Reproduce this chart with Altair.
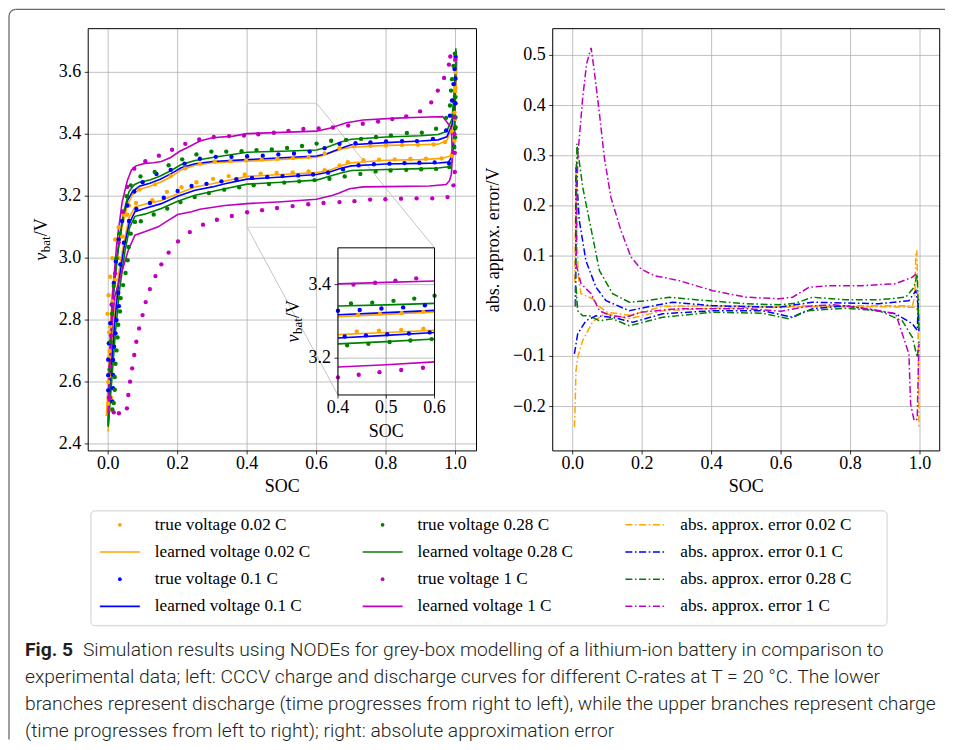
import math
import altair as alt
import pandas as pd

alt.data_transformers.disable_max_rows()

RATES = ["0.02 C", "0.1 C", "0.28 C", "1 C"]
COLORS = ["#ffa500", "#0000ff", "#008000", "#bf00bf"]

# ---------------- learned voltage (charge branch, then discharge branch) ----------------
O_LC_S = [-0.005, 0.0, 0.005, 0.012, 0.025, 0.04, 0.055, 0.07, 0.09, 0.12, 0.15, 0.18, 0.21, 0.25, 0.3, 0.4, 0.5, 0.6, 0.63, 0.67, 0.7, 0.8, 0.9, 0.95, 0.975, 0.99, 0.997, 1.0, 1.005]
O_LC_V = [2.49, 2.6, 2.75, 2.88, 3.0, 3.1, 3.17, 3.205, 3.222, 3.232, 3.245, 3.262, 3.285, 3.3, 3.308, 3.313, 3.319, 3.326, 3.336, 3.352, 3.358, 3.364, 3.366, 3.368, 3.38, 3.42, 3.5, 3.6, 3.655]
O_LD_S = [1.003, 0.998, 0.993, 0.985, 0.96, 0.9, 0.8, 0.7, 0.67, 0.64, 0.6, 0.5, 0.4, 0.336, 0.3, 0.25, 0.2, 0.153, 0.105, 0.077, 0.06, 0.045, 0.03, 0.018, 0.008, 0.0]
O_LD_V = [3.6, 3.45, 3.36, 3.33, 3.322, 3.318, 3.316, 3.308, 3.298, 3.285, 3.276, 3.27, 3.264, 3.249, 3.24, 3.23, 3.208, 3.186, 3.174, 3.165, 3.13, 3.05, 2.95, 2.82, 2.65, 2.44]

B_LC_S = [0.0, 0.005, 0.012, 0.025, 0.04, 0.055, 0.07, 0.09, 0.12, 0.15, 0.18, 0.21, 0.25, 0.3, 0.4, 0.5, 0.6, 0.63, 0.67, 0.7, 0.8, 0.9, 0.95, 0.975, 0.99, 0.997, 1.0, 1.002]
B_LC_V = [2.47, 2.65, 2.85, 3.0, 3.12, 3.185, 3.215, 3.232, 3.242, 3.255, 3.272, 3.292, 3.305, 3.312, 3.318, 3.324, 3.33, 3.337, 3.355, 3.366, 3.373, 3.378, 3.382, 3.392, 3.43, 3.52, 3.6, 3.668]
B_LD_S = [1.0, 0.997, 0.99, 0.98, 0.95, 0.9, 0.8, 0.7, 0.67, 0.64, 0.6, 0.5, 0.4, 0.336, 0.3, 0.25, 0.2, 0.153, 0.105, 0.077, 0.06, 0.045, 0.03, 0.018, 0.008, 0.0]
B_LD_V = [3.6, 3.42, 3.33, 3.31, 3.307, 3.306, 3.304, 3.298, 3.29, 3.279, 3.27, 3.262, 3.255, 3.24, 3.23, 3.219, 3.2, 3.176, 3.16, 3.15, 3.11, 3.03, 2.92, 2.78, 2.62, 2.46]

G_LC_S = [0.0, 0.006, 0.015, 0.03, 0.045, 0.06, 0.075, 0.09, 0.12, 0.15, 0.18, 0.21, 0.25, 0.3, 0.4, 0.5, 0.6, 0.63, 0.67, 0.7, 0.8, 0.9, 0.95, 0.975, 0.99, 0.997, 1.0, 1.001]
G_LC_V = [2.46, 2.68, 2.88, 3.04, 3.15, 3.215, 3.237, 3.245, 3.252, 3.265, 3.282, 3.302, 3.315, 3.325, 3.342, 3.345, 3.349, 3.358, 3.375, 3.384, 3.391, 3.395, 3.399, 3.41, 3.45, 3.55, 3.62, 3.678]
G_LD_S = [1.0, 0.997, 0.99, 0.98, 0.95, 0.9, 0.8, 0.7, 0.67, 0.64, 0.6, 0.5, 0.4, 0.336, 0.3, 0.25, 0.2, 0.153, 0.105, 0.077, 0.062, 0.048, 0.033, 0.02, 0.01, 0.0]
G_LD_V = [3.6, 3.4, 3.31, 3.295, 3.291, 3.289, 3.286, 3.283, 3.275, 3.265, 3.252, 3.245, 3.239, 3.224, 3.215, 3.203, 3.184, 3.16, 3.142, 3.135, 3.1, 3.02, 2.9, 2.75, 2.6, 2.455]

M_LC_S = [0.0, 0.005, 0.012, 0.025, 0.04, 0.055, 0.067, 0.08, 0.105, 0.13, 0.153, 0.18, 0.206, 0.23, 0.264, 0.3, 0.36, 0.4, 0.5, 0.6, 0.64, 0.686, 0.734, 0.83, 0.9, 0.963, 0.988, 0.991]
M_LC_V = [2.5, 2.7, 2.88, 3.05, 3.18, 3.25, 3.285, 3.298, 3.306, 3.308, 3.312, 3.325, 3.345, 3.358, 3.378, 3.389, 3.394, 3.402, 3.406, 3.41, 3.42, 3.437, 3.446, 3.452, 3.455, 3.457, 3.42, 3.33]
M_LD_S = [0.988, 0.983, 0.973, 0.925, 0.8, 0.734, 0.695, 0.665, 0.647, 0.6, 0.5, 0.4, 0.336, 0.264, 0.24, 0.2, 0.173, 0.144, 0.105, 0.077, 0.058, 0.038, 0.019, 0.008, 0.0]
M_LD_V = [3.27, 3.251, 3.238, 3.233, 3.231, 3.23, 3.224, 3.21, 3.203, 3.19, 3.182, 3.176, 3.17, 3.158, 3.15, 3.141, 3.122, 3.101, 3.085, 3.074, 3.026, 2.951, 2.876, 2.75, 2.52]

# ---------------- true voltage (measured points) ----------------
O_TC_S = [0.0, 0.0, 0.002, 0.003, -0.002, 0.001, 0.006, 0.012, 0.02, 0.03, 0.045, 0.06, 0.09, 0.135, 0.18, 0.222, 0.264, 0.307, 0.352, 0.397, 0.442, 0.487, 0.532, 0.577, 0.623, 0.666, 0.709, 0.755, 0.8, 0.846, 0.892, 0.937, 0.97, 0.99, 0.997, 0.999, 1.0, 1.0]
O_TC_V = [2.53, 2.6, 2.68, 2.76, 2.82, 2.88, 2.94, 3.0, 3.06, 3.1, 3.14, 3.17, 3.222, 3.238, 3.265, 3.29, 3.305, 3.312, 3.314, 3.316, 3.318, 3.321, 3.323, 3.326, 3.338, 3.355, 3.362, 3.363, 3.364, 3.365, 3.366, 3.367, 3.375, 3.41, 3.47, 3.54, 3.6, 3.64]
O_TD_S = [1.0, 0.999, 0.997, 0.99, 0.96, 0.915, 0.87, 0.825, 0.78, 0.735, 0.69, 0.666, 0.623, 0.577, 0.531, 0.485, 0.439, 0.393, 0.347, 0.302, 0.254, 0.211, 0.169, 0.127, 0.08, 0.055, 0.04, 0.03, 0.02, 0.012, 0.006, 0.004, 0.004, 0.008, 0.01]
O_TD_V = [3.55, 3.45, 3.38, 3.33, 3.322, 3.321, 3.32, 3.319, 3.318, 3.316, 3.31, 3.299, 3.284, 3.28, 3.277, 3.275, 3.273, 3.27, 3.265, 3.256, 3.245, 3.229, 3.214, 3.187, 3.178, 3.14, 3.07, 3.0, 2.93, 2.86, 2.78, 2.7, 2.62, 2.55, 2.51]

B_TC_S = [0.0, 0.0, 0.0, 0.002, 0.006, 0.01, 0.016, 0.022, 0.03, 0.04, 0.055, 0.075, 0.099, 0.139, 0.18, 0.22, 0.264, 0.31, 0.355, 0.4, 0.445, 0.49, 0.535, 0.58, 0.623, 0.666, 0.712, 0.755, 0.8, 0.846, 0.889, 0.935, 0.973, 0.984, 0.99, 0.994, 0.997, 1.0]
B_TC_V = [2.573, 2.622, 2.672, 2.725, 2.79, 2.85, 2.92, 2.99, 3.06, 3.12, 3.17, 3.215, 3.245, 3.272, 3.285, 3.305, 3.321, 3.327, 3.327, 3.329, 3.331, 3.335, 3.338, 3.344, 3.355, 3.369, 3.371, 3.374, 3.377, 3.378, 3.378, 3.385, 3.412, 3.46, 3.509, 3.562, 3.611, 3.65]
B_TD_S = [1.0, 1.0, 0.999, 0.996, 0.981, 0.94, 0.896, 0.853, 0.81, 0.765, 0.721, 0.676, 0.633, 0.59, 0.547, 0.502, 0.458, 0.414, 0.369, 0.326, 0.283, 0.24, 0.2, 0.16, 0.12, 0.081, 0.06, 0.045, 0.035, 0.029, 0.031, 0.024, 0.021, 0.017, 0.014, 0.014, 0.014, 0.012]
B_TD_V = [3.58, 3.5, 3.42, 3.36, 3.307, 3.309, 3.308, 3.307, 3.305, 3.303, 3.3, 3.287, 3.276, 3.27, 3.267, 3.265, 3.262, 3.259, 3.255, 3.248, 3.24, 3.233, 3.217, 3.195, 3.178, 3.159, 3.12, 3.05, 2.98, 2.888, 2.845, 2.8, 2.757, 2.714, 2.671, 2.623, 2.58, 2.537]

G_TC_S = [0.002, 0.004, 0.007, 0.011, 0.016, 0.024, 0.033, 0.043, 0.053, 0.065, 0.093, 0.134, 0.174, 0.213, 0.254, 0.297, 0.34, 0.384, 0.427, 0.471, 0.515, 0.558, 0.6, 0.642, 0.685, 0.728, 0.771, 0.814, 0.86, 0.903, 0.944, 0.973, 0.984, 0.987, 0.99, 0.994, 0.998]
G_TC_V = [2.55, 2.64, 2.73, 2.82, 2.91, 3.0, 3.08, 3.15, 3.2, 3.235, 3.264, 3.278, 3.3, 3.319, 3.335, 3.344, 3.344, 3.345, 3.349, 3.351, 3.356, 3.362, 3.37, 3.379, 3.382, 3.385, 3.391, 3.396, 3.404, 3.405, 3.418, 3.453, 3.493, 3.541, 3.578, 3.621, 3.66]
G_TD_S = [1.0, 1.0, 1.0, 0.999, 0.996, 0.982, 0.944, 0.901, 0.858, 0.813, 0.77, 0.726, 0.681, 0.637, 0.594, 0.55, 0.507, 0.463, 0.419, 0.377, 0.334, 0.29, 0.249, 0.208, 0.17, 0.131, 0.094, 0.077, 0.065, 0.059, 0.056, 0.05, 0.043, 0.036, 0.034, 0.029, 0.027, 0.024, 0.021, 0.019, 0.019, 0.016, 0.012]
G_TD_V = [3.52, 3.455, 3.423, 3.39, 3.358, 3.294, 3.288, 3.287, 3.285, 3.283, 3.28, 3.272, 3.264, 3.256, 3.252, 3.248, 3.244, 3.239, 3.235, 3.229, 3.221, 3.21, 3.197, 3.181, 3.16, 3.141, 3.119, 3.117, 3.079, 3.036, 2.993, 2.952, 2.913, 2.871, 2.828, 2.785, 2.744, 2.702, 2.659, 2.616, 2.575, 2.532, 2.511]

M_TC_S = [0.005, 0.006, 0.008, 0.012, 0.02, 0.03, 0.042, 0.055, 0.075, 0.107, 0.146, 0.184, 0.222, 0.262, 0.304, 0.348, 0.391, 0.432, 0.477, 0.519, 0.562, 0.606, 0.647, 0.691, 0.733, 0.777, 0.818, 0.858, 0.898, 0.93, 0.949, 0.967, 0.981, 0.985, 0.999]
M_TC_V = [2.55, 2.65, 2.75, 2.85, 2.95, 3.05, 3.15, 3.23, 3.289, 3.313, 3.331, 3.35, 3.369, 3.383, 3.391, 3.394, 3.396, 3.4, 3.405, 3.411, 3.417, 3.419, 3.422, 3.428, 3.434, 3.441, 3.449, 3.458, 3.474, 3.503, 3.541, 3.582, 3.625, 3.651, 3.641]
M_TD_S = [0.997, 0.997, 0.998, 0.998, 0.994, 0.977, 0.933, 0.888, 0.843, 0.798, 0.754, 0.709, 0.666, 0.62, 0.576, 0.531, 0.486, 0.443, 0.4, 0.356, 0.313, 0.273, 0.235, 0.201, 0.174, 0.153, 0.136, 0.12, 0.108, 0.099, 0.089, 0.081, 0.075, 0.069, 0.063, 0.058, 0.054, 0.031, 0.016]
M_TD_V = [3.455, 3.4, 3.34, 3.278, 3.235, 3.197, 3.193, 3.193, 3.192, 3.19, 3.189, 3.184, 3.181, 3.178, 3.174, 3.168, 3.162, 3.155, 3.148, 3.136, 3.124, 3.108, 3.084, 3.054, 3.018, 2.98, 2.942, 2.9, 2.858, 2.816, 2.773, 2.73, 2.687, 2.644, 2.601, 2.558, 2.515, 2.499, 2.502]

# ---------------- absolute approximation error (two branches per rate) ----------------
O_EA_S = [0.006, 0.0096, 0.012, 0.016, 0.024, 0.04, 0.058, 0.075, 0.1, 0.163, 0.21, 0.259, 0.403, 0.594, 0.69, 0.882, 0.978, 0.985, 0.988, 0.991, 0.994, 0.997]
O_EA_E = [0.05, 0.29, 0.15, 0.06, 0.025, 0.02, 0.015, 0.0, -0.012, -0.018, -0.01, 0.0, 0.001, -0.001, 0.001, 0.001, 0.001, 0.02, 0.104, 0.111, 0.0, -0.241]
O_EB_S = [0.005, 0.007, 0.0096, 0.015, 0.029, 0.058, 0.096, 0.163, 0.259, 0.403, 0.594, 0.69, 0.882, 0.988, 0.993, 0.996]
O_EB_E = [-0.241, -0.2, -0.128, -0.1, -0.068, -0.03, -0.015, -0.025, -0.009, -0.004, -0.002, -0.001, -0.001, -0.002, -0.01, -0.04]

B_EA_S = [0.008, 0.0096, 0.019, 0.038, 0.067, 0.096, 0.163, 0.211, 0.288, 0.403, 0.594, 0.69, 0.882, 0.968, 0.988, 0.995, 0.997]
B_EA_E = [0.0, 0.277, 0.171, 0.091, 0.038, 0.011, -0.009, -0.002, 0.008, 0.001, -0.002, 0.008, 0.005, 0.011, 0.031, 0.0, -0.05]
B_EB_S = [0.005, 0.0144, 0.038, 0.067, 0.115, 0.173, 0.259, 0.403, 0.547, 0.633, 0.69, 0.786, 0.93, 0.978, 0.992, 0.996]
B_EB_E = [-0.095, -0.055, -0.029, -0.019, -0.022, -0.032, -0.015, -0.009, -0.009, -0.022, -0.005, 0.001, -0.015, -0.035, -0.048, 0.02]

G_EA_S = [0.008, 0.012, 0.029, 0.048, 0.077, 0.115, 0.163, 0.211, 0.278, 0.355, 0.499, 0.594, 0.642, 0.69, 0.786, 0.882, 0.959, 0.983, 0.992, 0.997]
G_EA_E = [0.0, 0.324, 0.237, 0.171, 0.071, 0.025, 0.008, 0.011, 0.018, 0.013, 0.005, 0.003, 0.006, 0.018, 0.013, 0.013, 0.018, 0.038, 0.064, -0.05]
G_EB_S = [0.0096, 0.0144, 0.029, 0.048, 0.077, 0.115, 0.163, 0.259, 0.403, 0.547, 0.623, 0.671, 0.786, 0.882, 0.949, 0.978, 0.992, 0.997]
G_EB_E = [0.038, -0.009, -0.019, -0.019, -0.029, -0.025, -0.039, -0.022, -0.012, -0.014, -0.025, -0.009, -0.004, -0.009, -0.029, -0.062, -0.102, -0.07]

M_EA_S = [0.01, 0.0144, 0.029, 0.04, 0.053, 0.062, 0.077, 0.091, 0.11, 0.139, 0.168, 0.197, 0.235, 0.307, 0.403, 0.499, 0.594, 0.633, 0.681, 0.738, 0.834, 0.93, 0.978, 0.988]
M_EA_E = [0.1, 0.297, 0.417, 0.483, 0.515, 0.47, 0.384, 0.297, 0.217, 0.151, 0.098, 0.074, 0.061, 0.051, 0.031, 0.018, 0.015, 0.018, 0.038, 0.041, 0.041, 0.045, 0.058, 0.064]
M_EB_S = [0.0096, 0.024, 0.053, 0.077, 0.11, 0.153, 0.197, 0.3, 0.5, 0.6, 0.68, 0.75, 0.85, 0.93, 0.968, 0.973, 0.983, 0.992, 0.995, 0.997]
M_EB_E = [0.084, 0.045, 0.025, -0.009, -0.019, -0.022, -0.012, -0.005, -0.005, -0.01, 0.0, 0.003, -0.005, -0.015, -0.095, -0.195, -0.228, -0.225, -0.128, -0.075]

# ---------------- ticks, titles, legend and caption text ----------------
L_XTICKS = [0.0, 0.2, 0.4, 0.6, 0.8, 1.0]
L_YTICKS = [2.4, 2.6, 2.8, 3.0, 3.2, 3.4, 3.6]
R_XTICKS = [0.0, 0.2, 0.4, 0.6, 0.8, 1.0]
R_YTICKS = [-0.2, -0.1, 0.0, 0.1, 0.2, 0.3, 0.4, 0.5]
I_XTICKS = [0.4, 0.5, 0.6]
I_YTICKS = [3.2, 3.4]
X_TITLE = "SOC"
V_TITLE = ["v", "bat", "/V"]
E_TITLE = "abs. approx. error/V"

LEGEND_LABELS = [
    "true voltage 0.02 C", "learned voltage 0.02 C", "true voltage 0.1 C", "learned voltage 0.1 C",
    "true voltage 0.28 C", "learned voltage 0.28 C", "true voltage 1 C", "learned voltage 1 C",
    "abs. approx. error 0.02 C", "abs. approx. error 0.1 C", "abs. approx. error 0.28 C", "abs. approx. error 1 C",
]
CAPTION_BOLD = "Fig. 5"
CAPTION_LINES = [
    "Simulation results using NODEs for grey-box modelling of a lithium-ion battery in comparison to",
    "experimental data; left: CCCV charge and discharge curves for different C-rates at T = 20 °C. The lower",
    "branches represent discharge (time progresses from right to left), while the upper branches represent charge",
    "(time progresses from left to right); right: absolute approximation error",
]

# ---------------- layout ----------------
SERIF = "Liberation Serif"
SANS = "Roboto"
W, H = 938, 732
LX_DOM = [-0.0575, 1.0604]; LX_RNG = [80.3, 469.0]
LY_DOM = [2.3774, 3.741];   LY_RNG = [443.0, 20.3]
RX_DOM = [-0.0575, 1.0567]; RX_RNG = [545.3, 932.7]
RY_DOM = [-0.2884, 0.5533]; RY_RNG = [443.0, 20.3]
IX_DOM = [0.4, 0.6];        IX_RNG = [330.3, 427.0]
IY_DOM = [3.1, 3.5];        IY_RNG = [387.0, 239.7]
DASHDOT = [7, 2.6, 1.6, 2.6]
TICK_FS = 18
TITLE_FS = 18
CAP_FS = 19.3

# ---------------- tables ----------------
def paths(groups, yname):
    rows = []
    for rate, parts in zip(RATES, groups):
        t = 0
        for bname, (ss, vs) in parts:
            for s, v in zip(ss, vs):
                rows.append({"rate": rate, "branch": rate + " " + bname, "t": t, "soc": s, yname: v})
                t += 1
    return pd.DataFrame(rows)

learned = paths([
    [("c", (O_LC_S, O_LC_V)), ("d", (O_LD_S, O_LD_V))],
    [("c", (B_LC_S, B_LC_V)), ("d", (B_LD_S, B_LD_V))],
    [("c", (G_LC_S, G_LC_V)), ("d", (G_LD_S, G_LD_V))],
    [("c", (M_LC_S, M_LC_V)), ("d", (M_LD_S, M_LD_V))],
], "v")
true_pts = paths([
    [("c", (O_TC_S, O_TC_V)), ("d", (O_TD_S, O_TD_V))],
    [("c", (B_TC_S, B_TC_V)), ("d", (B_TD_S, B_TD_V))],
    [("c", (G_TC_S, G_TC_V)), ("d", (G_TD_S, G_TD_V))],
    [("c", (M_TC_S, M_TC_V)), ("d", (M_TD_S, M_TD_V))],
], "v")
errors = paths([
    [("a", (O_EA_S, O_EA_E)), ("b", (O_EB_S, O_EB_E))],
    [("a", (B_EA_S, B_EA_E)), ("b", (B_EB_S, B_EB_E))],
    [("a", (G_EA_S, G_EA_E)), ("b", (G_EB_S, G_EB_E))],
    [("a", (M_EA_S, M_EA_E)), ("b", (M_EB_S, M_EB_E))],
], "e")


def sc(dom, rng):
    return alt.Scale(domain=dom, range=rng, nice=False, zero=False)


COLOR = alt.Color("rate:N", scale=alt.Scale(domain=RATES, range=COLORS), legend=None)
GRID = dict(color="#b0b0b0", strokeWidth=0.8)
one = pd.DataFrame({"k": [0]})


def txt(s, **kw):
    base = dict(font=SERIF, fontSize=TITLE_FS, color="black", baseline="middle")
    base.update(kw)
    return alt.Chart(pd.DataFrame({"s": [s]})).mark_text(**base)


def v_title(cx, cy):
    # rotated "v_bat/V" with a subscript, reading bottom to top
    yb = cy + 21
    return alt.layer(
        txt(V_TITLE[0], angle=270, align="left", fontStyle="italic").encode(x=alt.value(cx), y=alt.value(yb), text="s:N"),
        txt(V_TITLE[1], angle=270, align="left", fontSize=13).encode(x=alt.value(cx + 4), y=alt.value(yb - 8.5), text="s:N"),
        txt(V_TITLE[2], angle=270, align="left").encode(x=alt.value(cx), y=alt.value(yb - 24.5), text="s:N"),
    )


def panel(xdom, xrng, ydom, yrng, xt, yt):
    xs, ys = sc(xdom, xrng), sc(ydom, yrng)
    bottom, left = yrng[0], xrng[0]
    gv = pd.DataFrame({"gx": xt, "y0": ydom[0], "y1": ydom[1]})
    gh = pd.DataFrame({"gy": yt, "x0": xdom[0], "x1": xdom[1]})
    vlines = alt.Chart(gv).mark_rule(**GRID).encode(
        x=alt.X("gx:Q", scale=xs, axis=None),
        y=alt.Y("y0:Q", scale=ys, axis=None), y2="y1:Q")
    hlines = alt.Chart(gh).mark_rule(**GRID).encode(
        x=alt.X("x0:Q", scale=xs, axis=None), x2="x1:Q",
        y=alt.Y("gy:Q", scale=ys, axis=None))
    box = alt.Chart(pd.DataFrame({"x0": [xdom[0]], "x1": [xdom[1]], "y0": [ydom[0]], "y1": [ydom[1]]})).mark_rect(
        fillOpacity=0, stroke="black", strokeWidth=1).encode(
        x=alt.X("x0:Q", scale=xs, axis=None), x2="x1:Q",
        y=alt.Y("y0:Q", scale=ys, axis=None), y2="y1:Q")
    xt_df = pd.DataFrame({"val": xt})
    yt_df = pd.DataFrame({"val": yt})
    xticks = alt.Chart(xt_df).mark_rule(color="black", strokeWidth=0.8).encode(
        x=alt.X("val:Q", scale=xs, axis=None), y=alt.value(bottom), y2=alt.value(bottom + 3.5))
    xlabels = alt.Chart(xt_df).transform_calculate(lab="format(datum.val, '.1f')").mark_text(
        font=SERIF, fontSize=TICK_FS, color="black", align="center", baseline="middle").encode(
        x=alt.X("val:Q", scale=xs, axis=None), y=alt.value(bottom + 13), text="lab:N")
    yticks = alt.Chart(yt_df).mark_rule(color="black", strokeWidth=0.8).encode(
        y=alt.Y("val:Q", scale=ys, axis=None), x=alt.value(left - 3.5), x2=alt.value(left))
    ylabels = alt.Chart(yt_df).transform_calculate(lab="format(datum.val, '.1f')").mark_text(
        font=SERIF, fontSize=TICK_FS, color="black", align="right", baseline="middle").encode(
        y=alt.Y("val:Q", scale=ys, axis=None), x=alt.value(left - 7), text="lab:N")
    return xs, ys, [vlines, hlines], [box, xticks, xlabels, yticks, ylabels]


# ---------------- left panel ----------------
lxs, lys, lgrid, lframe = panel(LX_DOM, LX_RNG, LY_DOM, LY_RNG, L_XTICKS, L_YTICKS)


def inv(px, dom, rng):
    return dom[0] + (px - rng[0]) / (rng[1] - rng[0]) * (dom[1] - dom[0])

zoom_rect = alt.Chart(pd.DataFrame({"x0": [IX_DOM[0]], "x1": [IX_DOM[1]], "y0": [IY_DOM[0]], "y1": [IY_DOM[1]]})).mark_rect(
    fillOpacity=0, stroke="#cfcfcf", strokeWidth=1).encode(
    x=alt.X("x0:Q", scale=lxs, axis=None), x2="x1:Q",
    y=alt.Y("y0:Q", scale=lys, axis=None), y2="y1:Q")
conn = pd.DataFrame({
    "sx": [IX_DOM[1], IX_DOM[0]], "sy": [IY_DOM[1], IY_DOM[0]],
    "ex": [inv(IX_RNG[1], LX_DOM, LX_RNG), inv(IX_RNG[0], LX_DOM, LX_RNG)],
    "ey": [inv(IY_RNG[1], LY_DOM, LY_RNG), inv(IY_RNG[0], LY_DOM, LY_RNG)],
})
connectors = alt.Chart(conn).mark_rule(color="#c4c4c4", strokeWidth=1).encode(
    x=alt.X("sx:Q", scale=lxs, axis=None), x2="ex:Q",
    y=alt.Y("sy:Q", scale=lys, axis=None), y2="ey:Q")

l_lines = alt.Chart(learned).mark_line(strokeWidth=1.6).encode(
    x=alt.X("soc:Q", scale=lxs, axis=None), y=alt.Y("v:Q", scale=lys, axis=None),
    color=COLOR, detail="rate:N", order=alt.Order("t:Q"))
l_dots = alt.Chart(true_pts).mark_circle(size=19, opacity=1).encode(
    x=alt.X("soc:Q", scale=lxs, axis=None), y=alt.Y("v:Q", scale=lys, axis=None), color=COLOR)

l_xtitle = txt(X_TITLE, align="center").encode(x=alt.value((LX_RNG[0] + LX_RNG[1]) / 2), y=alt.value(479), text="s:N")
left = alt.layer(*lgrid, zoom_rect, connectors, l_lines, l_dots, *lframe, l_xtitle,
                 v_title(34, (LY_RNG[0] + LY_RNG[1]) / 2))

# ---------------- inset ----------------
ixs, iys, igrid, iframe = panel(IX_DOM, IX_RNG, IY_DOM, IY_RNG, I_XTICKS, I_YTICKS)
flt = f"datum.soc >= {IX_DOM[0] - 0.0005} && datum.soc <= {IX_DOM[1] + 0.0005} && datum.v >= {IY_DOM[0]} && datum.v <= {IY_DOM[1]}"
i_lines = alt.Chart(learned).transform_filter(flt).mark_line(strokeWidth=1.6).encode(
    x=alt.X("soc:Q", scale=ixs, axis=None), y=alt.Y("v:Q", scale=iys, axis=None),
    color=COLOR, detail="branch:N", order=alt.Order("t:Q"))
i_dots = alt.Chart(true_pts).transform_filter(flt).mark_circle(size=19, opacity=1).encode(
    x=alt.X("soc:Q", scale=ixs, axis=None), y=alt.Y("v:Q", scale=iys, axis=None), color=COLOR)
i_xtitle = txt(X_TITLE, align="center").encode(x=alt.value((IX_RNG[0] + IX_RNG[1]) / 2), y=alt.value(424), text="s:N")
inset = alt.layer(*igrid, i_lines, i_dots, *iframe, i_xtitle, v_title(286, (IY_RNG[0] + IY_RNG[1]) / 2))

# ---------------- right panel ----------------
rxs, rys, rgrid, rframe = panel(RX_DOM, RX_RNG, RY_DOM, RY_RNG, R_XTICKS, R_YTICKS)
r_lines = alt.Chart(errors).mark_line(strokeWidth=1.5, strokeDash=DASHDOT).encode(
    x=alt.X("soc:Q", scale=rxs, axis=None), y=alt.Y("e:Q", scale=rys, axis=None),
    color=COLOR, detail="branch:N", order=alt.Order("t:Q"))
r_xtitle = txt(X_TITLE, align="center").encode(x=alt.value((RX_RNG[0] + RX_RNG[1]) / 2), y=alt.value(479), text="s:N")
r_ytitle = txt(E_TITLE, align="center", angle=270).encode(x=alt.value(487), y=alt.value((RY_RNG[0] + RY_RNG[1]) / 2), text="s:N")
right = alt.layer(*rgrid, r_lines, *rframe, r_xtitle, r_ytitle)

# ---------------- legend ----------------
leg_rows = []
for i, lab in enumerate(LEGEND_LABELS):
    kind = "dot" if lab.startswith("true") else ("line" if lab.startswith("learned") else "dash")
    rate = next(r for r in RATES if lab.endswith(" " + r))
    leg_rows.append({"label": lab, "kind": kind, "rate": rate, "col": i // 4, "row": i % 4})
leg = pd.DataFrame(leg_rows)
leg_base = alt.Chart(leg).transform_calculate(
    px="147 + datum.col * 263", py="517 + datum.row * 27.2",
    sx1="147 + datum.col * 263 - 55", sx2="147 + datum.col * 263 - 15",
    sc="147 + datum.col * 263 - 35")
LXP = alt.X("px:Q", scale=None, axis=None)
LYP = alt.Y("py:Q", scale=None, axis=None)
leg_box = alt.Chart(one).mark_rect(
    cornerRadius=4, fill="white", stroke="#d0d0d0", strokeWidth=1).encode(
    x=alt.value(83), x2=alt.value(880), y=alt.value(503), y2=alt.value(618))
leg_text = leg_base.mark_text(align="left", baseline="middle", font=SERIF, fontSize=17.2, color="black").encode(
    x=LXP, y=LYP, text="label:N")
leg_dot = leg_base.transform_filter("datum.kind == 'dot'").mark_circle(size=14, opacity=1).encode(
    x=alt.X("sc:Q", scale=None, axis=None), y=LYP, color=COLOR)
leg_line = leg_base.transform_filter("datum.kind == 'line'").mark_rule(strokeWidth=1.6).encode(
    x=alt.X("sx1:Q", scale=None, axis=None), x2="sx2:Q", y=LYP, color=COLOR)
leg_dash = leg_base.transform_filter("datum.kind == 'dash'").mark_rule(strokeWidth=1.5, strokeDash=DASHDOT).encode(
    x=alt.X("sx1:Q", scale=None, axis=None), x2="sx2:Q", y=LYP, color=COLOR)
legend = alt.layer(leg_box, leg_dot, leg_line, leg_dash, leg_text)

# ---------------- caption ----------------
cap = pd.DataFrame({"text": CAPTION_LINES, "i": list(range(len(CAPTION_LINES)))})
cap_text = alt.Chart(cap).transform_calculate(
    cx="datum.i == 0 ? 75 : 17", cy="642 + datum.i * 27").mark_text(
    align="left", baseline="middle", font=SANS, fontSize=CAP_FS, fontWeight=300, color="#231f20").encode(
    x=alt.X("cx:Q", scale=None, axis=None), y=alt.Y("cy:Q", scale=None, axis=None), text="text:N")
cap_bold = alt.Chart(pd.DataFrame({"text": [CAPTION_BOLD]})).mark_text(
    align="left", baseline="middle", font=SANS, fontSize=CAP_FS, fontWeight="bold", color="#231f20").encode(
    x=alt.value(17), y=alt.value(642), text="text:N")
caption = alt.layer(cap_text, cap_bold)

# ---------------- page frame ----------------
FR = dict(color="#6a6a6a", strokeWidth=1.3)
frame_top = alt.Chart(one).mark_rule(**FR).encode(x=alt.value(7.7), x2=alt.value(W), y=alt.value(1))
frame_left = alt.Chart(one).mark_rule(**FR).encode(x=alt.value(1), y=alt.value(7.7), y2=alt.value(H))
frame_corner = alt.Chart(one).mark_arc(theta=3 * math.pi / 2, theta2=2 * math.pi, radius=7.35, radius2=6.05,
                                        color="#6a6a6a").encode(x=alt.value(7.7), y=alt.value(7.7))
frame = alt.layer(frame_top, frame_left, frame_corner)

chart = alt.layer(left, inset, right, legend, caption, frame).resolve_scale(
    x="independent", y="independent").properties(
    width=W, height=H, padding=0, background="white").configure_view(stroke=None)

chart.save("out.html", embed_options={"renderer": "svg", "actions": False})
